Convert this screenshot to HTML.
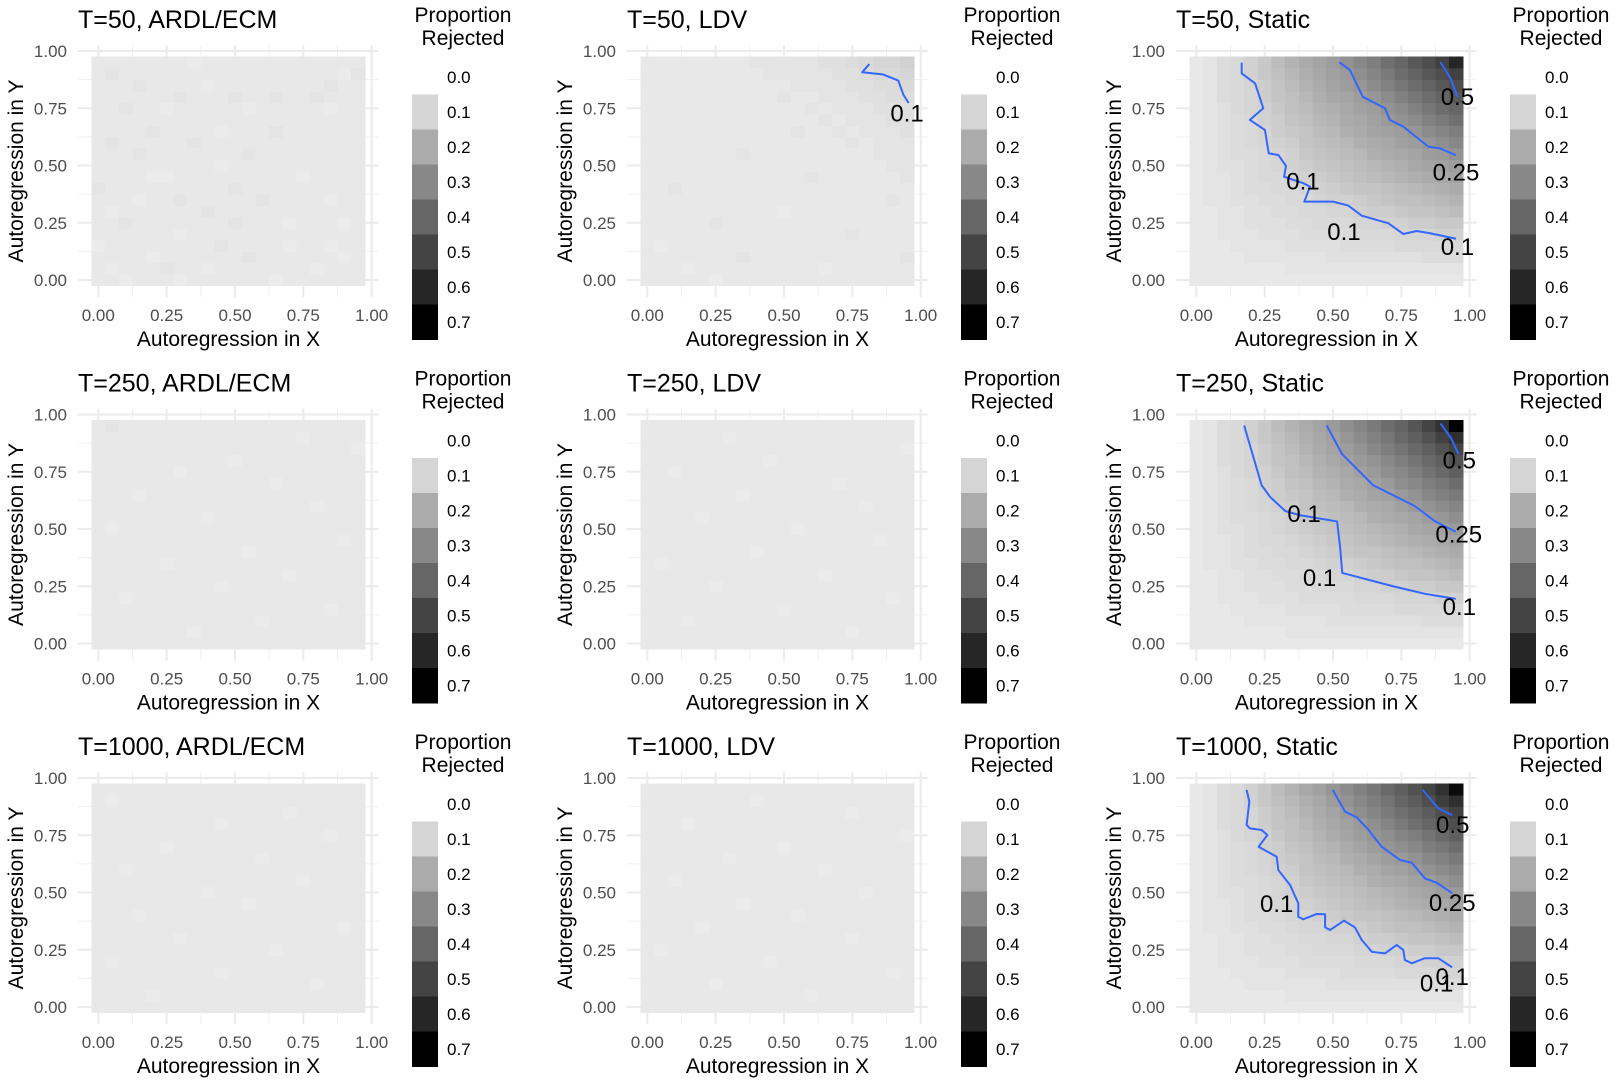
<!DOCTYPE html>
<html><head><meta charset="utf-8"><style>
html,body{margin:0;padding:0;background:#fff;}
svg{display:block;font-family:"Liberation Sans",Arial,sans-serif;}
</style></head><body>
<svg id="chart" width="1619" height="1084" viewBox="0 0 1619 1084" xmlns="http://www.w3.org/2000/svg"></svg>
<script>
// ---- data (rows = y index 0..19 for y=0..0.95, cols = x index 0..19) ----
const ardl50 = [
[5,5,4,5,5,5,4,5,5,5,5,5,5,4,5,5,5,5,5,5],
[5,4,5,5,5,6,5,5,4,5,5,5,5,5,5,5,4,5,5,5],
[5,5,5,5,4,5,5,5,5,5,5,6,5,5,5,5,5,5,4,5],
[4,5,5,5,5,5,5,5,5,6,5,5,5,5,4,5,5,4,5,5],
[5,5,5,5,5,5,4,5,5,5,5,5,5,5,5,5,5,5,5,5],
[5,5,6,5,5,5,5,5,5,5,6,5,5,5,4,5,5,5,4,5],
[5,4,5,5,5,5,5,5,6,5,5,5,5,5,5,5,5,5,5,5],
[5,5,5,4,5,5,6,5,5,5,5,5,6,5,5,5,5,4,5,5],
[6,5,5,5,5,5,5,5,5,5,6,5,5,5,5,5,5,5,5,5],
[5,5,5,5,4,4,5,5,5,5,5,5,5,5,5,4,5,5,5,5],
[5,5,5,5,5,5,5,5,5,4,5,5,5,5,5,5,5,5,5,5],
[5,5,5,6,5,5,5,5,5,5,5,6,5,5,5,5,5,5,5,5],
[5,6,5,5,5,5,5,6,5,5,5,5,5,5,5,5,5,5,5,5],
[5,5,5,5,6,5,5,5,5,4,5,5,5,6,5,5,5,5,5,5],
[5,5,5,5,5,5,5,5,5,5,5,5,5,5,5,5,5,5,5,5],
[5,5,6,5,5,4,5,5,5,5,5,4,5,5,5,5,5,4,5,5],
[5,5,5,5,5,5,6,5,5,5,6,5,5,6,5,5,6,5,5,5],
[5,5,5,6,5,5,5,5,4,5,5,5,5,5,5,5,5,6,5,5],
[5,6,5,5,5,5,5,5,5,5,5,5,5,5,5,5,5,5,4,6],
[5,5,5,5,5,5,5,4,5,5,5,5,5,5,5,5,5,5,5,5]];
const ldv50 = [
[5,5,5,5,5,4,5,5,5,5,5,5,5,5,5,5,5,5,5,5],
[5,5,5,4,5,5,5,5,5,5,5,5,5,4,5,5,5,5,5,5],
[5,5,5,5,5,5,5,6,5,5,5,5,5,5,5,5,5,5,5,6],
[5,4,5,5,5,5,5,5,5,5,5,5,5,5,5,5,5,5,5,5],
[5,5,5,5,5,5,5,5,5,5,5,5,5,5,5,6,5,5,5,5],
[5,5,5,5,5,6,5,5,5,5,5,5,5,5,5,5,5,5,5,5],
[5,5,5,5,5,5,5,5,5,5,4,5,5,5,5,5,5,5,5,5],
[5,5,5,5,5,5,5,5,5,5,5,5,5,5,5,5,5,5,6,5],
[5,5,6,5,5,5,5,5,5,5,5,5,5,5,5,5,5,5,5,5],
[5,5,5,5,5,5,5,5,5,5,5,5,6,5,5,5,5,5,5,6],
[5,5,5,5,5,5,5,5,5,5,5,5,5,5,5,5,5,5,6,6],
[5,5,5,5,5,5,5,6,5,5,5,5,5,5,5,5,5,6,6,6],
[5,5,5,5,5,5,5,5,5,5,5,5,5,5,5,6,5,6,6,6],
[5,5,5,5,5,5,5,5,5,5,5,6,5,5,6,5,6,6,6,7],
[5,5,5,5,5,5,5,5,5,5,5,5,5,6,5,6,6,6,7,7],
[5,5,5,5,5,5,5,5,5,5,5,5,6,5,6,6,6,7,7,7],
[5,5,5,5,5,5,5,5,5,5,6,5,5,6,6,6,7,7,8,8],
[5,5,5,5,5,5,5,5,5,5,5,6,6,6,6,7,7,8,8,9],
[5,5,5,5,5,5,5,5,5,6,6,6,6,6,7,7,8,9,9,10],
[5,5,5,5,5,5,5,5,6,6,6,6,6,7,7,8,9,10,10,11]];
const static50 = [
[5,5,5,5,5,5,5,5,5,5,5,5,5,5,5,5,5,5,5,5],
[5,5,5,5,5,5,5,6,6,6,6,6,6,6,6,6,6,6,6,6],
[5,5,5,5,6,6,6,6,6,6,7,7,7,7,7,7,7,8,8,8],
[5,5,5,6,6,6,6,7,7,7,7,8,8,8,8,9,9,9,9,9],
[5,5,6,6,6,7,7,7,8,8,8,8,9,9,9,10,10,10,11,11],
[5,5,6,6,7,7,7,8,8,9,9,9,10,10,11,11,12,12,13,13],
[5,5,6,6,7,7,8,8,9,9,10,10,11,12,12,13,14,14,15,16],
[5,6,6,7,7,8,8,9,9,10,11,11,12,13,14,15,15,16,17,18],
[5,6,6,7,8,8,9,9,10,11,12,13,14,14,15,16,17,18,19,20],
[5,6,6,7,8,9,9,10,11,12,13,14,15,16,17,18,19,20,21,22],
[5,6,7,7,8,9,10,11,12,13,14,15,16,17,18,19,21,22,23,24],
[5,6,7,8,8,9,10,11,13,14,15,16,17,19,20,21,22,24,25,27],
[5,6,7,8,9,10,11,12,14,15,16,17,19,20,21,23,24,26,28,30],
[5,6,7,8,9,10,12,13,14,16,17,19,20,22,23,24,26,29,31,33],
[5,6,7,8,9,11,12,14,15,17,18,20,21,23,25,27,29,32,34,37],
[5,6,7,9,10,11,13,15,16,18,19,21,23,24,27,29,32,35,38,40],
[5,6,8,9,10,12,14,15,17,19,21,22,24,26,29,32,35,38,41,44],
[5,6,8,9,10,12,14,16,18,20,22,24,26,29,32,35,38,41,44,47],
[5,6,8,9,11,13,15,17,19,21,23,25,28,31,34,38,41,44,47,51],
[5,6,8,9,11,13,16,18,20,22,24,27,30,33,37,40,44,47,51,60]];
const static250 = [
[5,5,5,5,5,5,5,5,5,5,5,5,5,5,5,5,5,5,5,5],
[5,5,5,5,5,5,5,6,6,6,6,6,6,6,6,6,6,6,6,6],
[5,5,5,5,6,6,6,6,6,6,7,7,7,7,7,7,7,8,8,8],
[5,5,5,6,6,6,6,7,7,7,7,8,8,8,8,9,9,9,9,9],
[5,5,6,6,6,7,7,7,8,8,8,8,9,9,9,10,10,10,11,11],
[5,5,6,6,7,7,7,8,8,9,9,9,10,10,11,11,12,12,13,13],
[5,5,6,6,7,7,8,8,9,9,10,10,11,12,12,13,14,14,15,16],
[5,6,6,7,7,8,8,9,9,10,11,11,12,13,14,15,15,16,17,18],
[5,6,6,7,8,8,9,9,10,11,12,13,14,14,15,16,17,18,19,20],
[5,6,6,7,8,9,9,10,11,12,13,14,15,16,17,18,19,20,21,22],
[5,6,7,7,8,9,10,11,12,13,14,15,16,17,18,19,21,22,23,25],
[5,6,7,8,8,9,10,11,13,14,15,16,17,19,20,21,22,24,26,28],
[5,6,7,8,9,10,11,12,14,15,16,17,19,20,21,23,25,27,29,31],
[5,6,7,8,9,10,12,13,14,16,17,19,20,22,23,25,27,30,32,34],
[5,6,7,8,9,11,12,14,15,17,18,20,21,23,25,28,30,33,35,38],
[5,6,7,9,10,11,13,15,16,18,19,21,23,25,28,30,33,36,39,42],
[5,6,8,9,10,12,14,15,17,19,21,23,25,27,30,33,36,39,42,46],
[5,6,8,9,10,12,14,16,18,20,22,24,27,30,33,36,39,42,46,50],
[5,6,8,9,11,13,15,17,19,21,23,26,29,32,35,39,42,46,51,57],
[5,6,8,9,11,13,16,18,20,22,25,28,31,34,38,41,45,50,56,70]];
const static1000 = [
[5,5,5,5,5,5,5,5,5,5,5,5,5,5,5,5,5,5,5,5],
[5,5,5,5,5,5,5,6,6,6,6,6,6,6,6,6,6,6,6,6],
[5,5,5,5,6,6,6,6,6,6,7,7,7,7,7,7,7,8,8,8],
[5,5,5,6,6,6,6,7,7,7,7,8,8,8,8,9,9,9,10,10],
[5,5,6,6,6,7,7,7,8,8,8,8,9,9,9,10,10,11,11,11],
[5,5,6,6,7,7,7,8,8,9,9,9,10,10,11,11,12,12,13,13],
[5,5,6,6,7,7,8,8,9,9,10,10,11,12,12,13,14,14,15,16],
[5,6,6,7,7,8,8,9,10,10,11,11,12,13,14,15,15,16,17,18],
[5,6,6,7,8,8,9,10,10,11,12,13,14,14,15,16,17,18,19,20],
[5,6,6,7,8,9,10,10,11,12,13,14,15,16,17,18,19,20,21,23],
[5,6,7,7,8,9,10,11,12,13,14,15,16,17,18,19,21,22,24,25],
[5,6,7,8,8,9,10,11,13,14,15,16,17,19,20,21,23,24,26,28],
[5,6,7,8,9,10,11,12,14,15,16,17,19,20,22,23,25,27,29,31],
[5,6,7,8,9,10,12,13,14,16,17,19,20,22,24,25,27,30,32,34],
[5,6,7,8,9,11,12,14,15,17,18,20,22,24,26,28,30,33,35,38],
[5,6,7,9,10,11,13,15,16,18,20,22,24,26,28,31,33,36,39,42],
[5,6,8,9,10,12,14,15,17,19,21,23,25,28,31,34,37,40,43,47],
[5,6,8,9,10,12,14,16,18,20,22,25,28,31,34,37,40,43,47,51],
[5,6,8,9,11,13,15,17,19,21,24,27,30,33,36,40,43,47,52,57],
[5,6,8,9,11,13,16,18,21,23,26,29,32,35,39,42,46,50,56,67]];
const ardl250 = [
[5,5,5,5,5,5,5,5,5,5,5,5,5,5,5,5,5,5,5,5],
[5,5,5,5,5,5,5,4,5,5,5,5,5,5,5,5,5,5,5,5],
[5,5,5,5,5,5,5,5,5,5,5,5,4,5,5,5,5,5,5,5],
[5,5,5,5,5,5,5,5,5,5,5,5,5,5,5,5,5,4,5,5],
[5,5,4,5,5,5,5,5,5,5,5,5,5,5,5,5,5,5,5,5],
[5,5,5,5,5,5,5,5,5,4,5,5,5,5,5,5,5,5,5,5],
[5,5,5,5,5,5,5,5,5,5,5,5,5,5,4,5,5,5,5,5],
[5,5,5,5,5,4,5,5,5,5,5,5,5,5,5,5,5,5,5,5],
[5,5,5,5,5,5,5,5,5,5,5,4,5,5,5,5,5,5,5,5],
[5,5,5,5,5,5,5,5,5,5,5,5,5,5,5,5,5,5,4,5],
[5,4,5,5,5,5,5,5,5,5,5,5,5,5,5,5,5,5,5,5],
[5,5,5,5,5,5,5,5,4,5,5,5,5,5,5,5,5,5,5,5],
[5,5,5,5,5,5,5,5,5,5,5,5,5,5,5,5,4,5,5,5],
[5,5,5,4,5,5,5,5,5,5,5,5,5,5,5,5,5,5,5,5],
[5,5,5,5,5,5,5,5,5,5,5,5,5,4,5,5,5,5,5,5],
[5,5,5,5,5,5,4,5,5,5,5,5,5,5,5,5,5,5,5,5],
[5,5,5,5,5,5,5,5,5,5,4,5,5,5,5,5,5,5,5,5],
[5,5,5,5,5,5,5,5,5,5,5,5,5,5,5,5,5,5,5,4],
[5,5,5,5,5,5,5,5,5,5,5,5,5,5,5,4,5,5,5,5],
[5,6,5,5,5,5,5,5,5,5,5,5,5,5,5,5,5,5,5,5]];
const ldv250 = [
[5,5,5,5,5,5,5,5,5,5,5,5,5,5,5,5,5,5,5,5],
[5,5,5,5,5,5,5,5,5,5,5,5,5,5,5,4,5,5,5,5],
[5,5,5,4,5,5,5,5,5,5,5,5,5,5,5,5,5,5,5,5],
[5,5,5,5,5,5,5,5,5,5,4,5,5,5,5,5,5,5,5,5],
[5,5,5,5,5,5,5,5,5,5,5,5,5,5,5,5,5,5,4,5],
[5,5,5,5,5,4,5,5,5,5,5,5,5,5,5,5,5,5,5,5],
[5,5,5,5,5,5,5,5,5,5,5,5,5,4,5,5,5,5,5,5],
[5,4,5,5,5,5,5,5,5,5,5,5,5,5,5,5,5,5,5,5],
[5,5,5,5,5,5,5,5,4,5,5,5,5,5,5,5,5,5,5,5],
[5,5,5,5,5,5,5,5,5,5,5,5,5,5,5,5,5,4,5,5],
[5,5,5,5,5,5,5,5,5,5,5,4,5,5,5,5,5,5,5,5],
[5,5,5,5,4,5,5,5,5,5,5,5,5,5,5,5,5,5,5,5],
[5,5,5,5,5,5,5,5,5,5,5,5,5,5,5,5,4,5,5,5],
[5,5,5,5,5,5,5,4,5,5,5,5,5,5,5,5,5,5,5,5],
[5,5,5,5,5,5,5,5,5,5,5,5,5,5,4,5,5,5,5,5],
[5,5,4,5,5,5,5,5,5,5,5,5,5,5,5,5,5,5,5,5],
[5,5,5,5,5,5,5,5,5,4,5,5,5,5,5,5,5,5,5,5],
[5,5,5,5,5,5,5,5,5,5,5,5,5,5,5,5,5,5,5,4],
[5,5,5,5,5,5,4,5,5,5,5,5,5,5,5,5,5,5,5,5],
[5,5,5,5,5,5,5,5,5,5,5,5,5,5,5,5,5,5,5,5]];
const ardl1000 = [
[5,5,5,5,5,5,5,5,5,5,5,5,5,5,5,5,5,5,5,5],
[5,5,5,5,4,5,5,5,5,5,5,5,5,5,5,5,5,5,5,5],
[5,5,5,5,5,5,5,5,5,5,5,5,5,5,5,5,4,5,5,5],
[5,5,5,5,5,5,5,5,5,4,5,5,5,5,5,5,5,5,5,5],
[5,4,5,5,5,5,5,5,5,5,5,5,5,5,5,5,5,5,5,5],
[5,5,5,5,5,5,5,5,5,5,5,5,5,4,5,5,5,5,5,5],
[5,5,5,5,5,5,4,5,5,5,5,5,5,5,5,5,5,5,5,5],
[5,5,5,5,5,5,5,5,5,5,5,5,5,5,5,5,5,5,4,5],
[5,5,5,4,5,5,5,5,5,5,5,5,5,5,5,5,5,5,5,5],
[5,5,5,5,5,5,5,5,5,5,5,4,5,5,5,5,5,5,5,5],
[5,5,5,5,5,5,5,5,4,5,5,5,5,5,5,5,5,5,5,5],
[5,5,5,5,5,5,5,5,5,5,5,5,5,5,5,4,5,5,5,5],
[5,5,4,5,5,5,5,5,5,5,5,5,5,5,5,5,5,5,5,5],
[5,5,5,5,5,5,5,5,5,5,5,5,4,5,5,5,5,5,5,5],
[5,5,5,5,5,4,5,5,5,5,5,5,5,5,5,5,5,5,5,5],
[5,5,5,5,5,5,5,5,5,5,5,5,5,5,5,5,5,4,5,5],
[5,5,5,5,5,5,5,5,5,4,5,5,5,5,5,5,5,5,5,5],
[5,5,5,5,5,5,5,5,5,5,5,5,5,5,4,5,5,5,5,5],
[5,4,5,5,5,5,5,5,5,5,5,5,5,5,5,5,5,5,5,5],
[5,5,5,5,5,5,5,5,5,5,5,5,5,5,5,5,5,5,5,5]];
const ldv1000 = [
[5,5,5,5,5,5,5,5,5,5,5,5,5,5,5,5,5,5,5,5],
[5,5,5,5,5,5,5,5,5,5,5,5,4,5,5,5,5,5,5,5],
[5,5,5,5,5,4,5,5,5,5,5,5,5,5,5,5,5,5,5,5],
[5,5,5,5,5,5,5,5,5,5,5,5,5,5,5,5,5,5,4,5],
[5,5,5,5,5,5,5,5,5,4,5,5,5,5,5,5,5,5,5,5],
[5,4,5,5,5,5,5,5,5,5,5,5,5,5,5,5,5,5,5,5],
[5,5,5,5,5,5,5,5,5,5,5,5,5,5,5,4,5,5,5,5],
[5,5,5,5,4,5,5,5,5,5,5,5,5,5,5,5,5,5,5,5],
[5,5,5,5,5,5,5,5,5,5,5,4,5,5,5,5,5,5,5,5],
[5,5,5,5,5,5,5,4,5,5,5,5,5,5,5,5,5,5,5,5],
[5,5,5,5,5,5,5,5,5,5,5,5,5,5,5,5,4,5,5,5],
[5,5,4,5,5,5,5,5,5,5,5,5,5,5,5,5,5,5,5,5],
[5,5,5,5,5,5,5,5,5,5,5,5,5,4,5,5,5,5,5,5],
[5,5,5,5,5,5,4,5,5,5,5,5,5,5,5,5,5,5,5,5],
[5,5,5,5,5,5,5,5,5,5,4,5,5,5,5,5,5,5,5,5],
[5,5,5,5,5,5,5,5,5,5,5,5,5,5,5,5,5,5,5,4],
[5,5,5,4,5,5,5,5,5,5,5,5,5,5,5,5,5,5,5,5],
[5,5,5,5,5,5,5,5,5,5,5,5,5,5,5,4,5,5,5,5],
[5,5,5,5,5,5,5,5,4,5,5,5,5,5,5,5,5,5,5,5],
[5,5,5,5,5,5,5,5,5,5,5,5,5,5,5,5,5,5,5,5]];

// contour lines (data coords)
const c50ldv_01 = [[0.812,0.943],[0.786,0.907],[0.861,0.898],[0.918,0.871],[0.937,0.808],[0.956,0.773]];
const c50st_01 = [[0.166,0.949],[0.166,0.902],[0.215,0.859],[0.245,0.75],[0.196,0.699],[0.251,0.655],[0.265,0.553],[0.3,0.546],[0.328,0.498],[0.321,0.451],[0.392,0.422],[0.416,0.408],[0.395,0.342],[0.501,0.342],[0.556,0.325],[0.605,0.281],[0.702,0.248],[0.757,0.201],[0.806,0.214],[0.855,0.204],[0.95,0.18]];
const c50st_025 = [[0.523,0.951],[0.562,0.917],[0.609,0.8],[0.69,0.75],[0.708,0.699],[0.757,0.67],[0.849,0.582],[0.891,0.575],[0.95,0.545]];
const c50st_05 = [[0.893,0.952],[0.93,0.88],[0.955,0.8]];
const c250st_01 = [[0.175,0.952],[0.2,0.85],[0.239,0.691],[0.27,0.64],[0.326,0.578],[0.38,0.56],[0.515,0.533],[0.526,0.42],[0.534,0.308],[0.723,0.249],[0.836,0.217],[0.949,0.195]];
const c250st_025 = [[0.477,0.952],[0.534,0.826],[0.647,0.691],[0.798,0.601],[0.874,0.533],[0.949,0.488]];
const c250st_05 = [[0.893,0.961],[0.93,0.9],[0.96,0.826]];
const c1000st_01 = [[0.184,0.948],[0.194,0.897],[0.184,0.795],[0.196,0.78],[0.239,0.773],[0.26,0.751],[0.228,0.7],[0.294,0.656],[0.3,0.598],[0.343,0.533],[0.373,0.453],[0.373,0.394],[0.391,0.383],[0.44,0.406],[0.471,0.405],[0.471,0.348],[0.489,0.336],[0.54,0.377],[0.58,0.348],[0.605,0.293],[0.642,0.241],[0.69,0.234],[0.733,0.271],[0.757,0.249],[0.763,0.205],[0.788,0.191],[0.836,0.213],[0.885,0.213],[0.936,0.173]];
const c1000st_025 = [[0.499,0.948],[0.544,0.853],[0.587,0.828],[0.63,0.773],[0.678,0.7],[0.745,0.642],[0.788,0.63],[0.836,0.562],[0.879,0.543],[0.936,0.497]];
const c1000st_05 = [[0.828,0.948],[0.885,0.868],[0.936,0.838]];

// contour labels: [x, y, text]
const lab50ldv = [[0.95,0.727,"0.1"]];
const lab50st = [[0.955,0.8,"0.5"],[0.95,0.47,"0.25"],[0.39,0.43,"0.1"],[0.54,0.21,"0.1"],[0.955,0.145,"0.1"]];
const lab250st = [[0.962,0.8,"0.5"],[0.96,0.475,"0.25"],[0.394,0.565,"0.1"],[0.451,0.285,"0.1"],[0.962,0.159,"0.1"]];
const lab1000st = [[0.938,0.795,"0.5"],[0.936,0.455,"0.25"],[0.294,0.45,"0.1"],[0.936,0.13,"0.1"],[0.879,0.103,"0.1"]];

const ticks = [0, 0.25, 0.5, 0.75, 1];
const tickLabels = ["0.00","0.25","0.50","0.75","1.00"];
const minorTicks = [0.125, 0.375, 0.625, 0.875];
const legendLevels = ["0.0","0.1","0.2","0.3","0.4","0.5","0.6","0.7"];
const legendColors = [null,"#d5d5d5","#ababab","#888888","#666666","#444444","#262626","#000000"];

const panels = [
 {title:"T=50, ARDL/ECM", data:ardl50, lines:[], labels:[]},
 {title:"T=50, LDV", data:ldv50, lines:[c50ldv_01], labels:lab50ldv},
 {title:"T=50, Static", data:static50, lines:[c50st_01,c50st_025,c50st_05], labels:lab50st},
 {title:"T=250, ARDL/ECM", data:ardl250, lines:[], labels:[]},
 {title:"T=250, LDV", data:ldv250, lines:[], labels:[]},
 {title:"T=250, Static", data:static250, lines:[c250st_01,c250st_025,c250st_05], labels:lab250st},
 {title:"T=1000, ARDL/ECM", data:ardl1000, lines:[], labels:[]},
 {title:"T=1000, LDV", data:ldv1000, lines:[], labels:[]},
 {title:"T=1000, Static", data:static1000, lines:[c1000st_01,c1000st_025,c1000st_05], labels:lab1000st}
];

const NS = "http://www.w3.org/2000/svg";
const svg = document.getElementById('chart');
function mk(tag, attrs, parent){
  const e = document.createElementNS(NS, tag);
  for (const k in attrs) e.setAttribute(k, attrs[k]);
  (parent||svg).appendChild(e);
  return e;
}
const stopsV = [0,10,20,30,40,50,60,70];
const stopsG = [250,213,171,136,102,68,38,0];
function fillFor(v){
  if (v <= 0) return 'rgb(250,250,250)';
  if (v >= 70) return 'rgb(0,0,0)';
  let i = Math.floor(v/10);
  const t = (v - stopsV[i]) / 10;
  const g = Math.round(stopsG[i] + (stopsG[i+1]-stopsG[i])*t);
  return `rgb(${g},${g},${g})`;
}

panels.forEach((p, idx) => {
  const col = idx % 3, row = Math.floor(idx/3);
  const ox = col*549, oy = row*363.5;
  const X = v => ox + 98.3 + v*273.4;
  const Y = v => oy + 280 - v*229;
  const g = mk('g', {});
  
  

  // grid
  const grid = mk('g', {}, g);
  
  
  minorTicks.forEach(t => {
    mk('line', {x1:X(t), x2:X(t), y1:Y(1.025), y2:Y(-0.075), stroke:'#f0f0f0', 'stroke-width':1}, grid);
    mk('line', {x1:X(-0.075), x2:X(1.025), y1:Y(t), y2:Y(t), stroke:'#f0f0f0', 'stroke-width':1}, grid);
  });
  ticks.forEach(t => {
    mk('line', {x1:X(t), x2:X(t), y1:Y(1.025), y2:Y(-0.075), stroke:'#ebebeb', 'stroke-width':2}, grid);
    mk('line', {x1:X(-0.075), x2:X(1.025), y1:Y(t), y2:Y(t), stroke:'#ebebeb', 'stroke-width':2}, grid);
  });

  // tiles
  const tiles = mk('g', {'shape-rendering':'crispEdges'}, g);
  
  
  p.data.forEach((rowVals, j) => {
    rowVals.forEach((v, i) => {
      const x0 = X(i*0.05 - 0.025), x1 = X(i*0.05 + 0.025);
      const y0 = Y(j*0.05 + 0.025), y1 = Y(j*0.05 - 0.025);
      const r = mk('rect', {x:x0, y:y0, width:x1-x0+0.4, height:y1-y0+0.4, fill:fillFor(v)}, tiles);
      
      
    });
  });

  // contours
  p.lines.forEach(line => {
    const pl = mk('polyline', {points: line.map(q => X(q[0])+','+Y(q[1])).join(' '), fill:'none', stroke:'#3366ff', 'stroke-width':2, 'stroke-linejoin':'round'}, g);
    
    
  });
  p.labels.forEach(l => {
    const t = mk('text', {x:X(l[0]), y:Y(l[1])+8, 'text-anchor':'middle', 'font-size':24, fill:'#000'}, g);
    t.textContent = l[2];
    
    
  });

  // ticks
  ticks.forEach((t, k) => {
    const tx = mk('text', {x:X(t), y:oy+321, 'text-anchor':'middle', 'font-size':17, fill:'#4d4d4d'}, g);
    tx.textContent = tickLabels[k];
    
    
    const ty = mk('text', {x:ox+67, y:Y(t)+6, 'text-anchor':'end', 'font-size':17, fill:'#4d4d4d'}, g);
    ty.textContent = tickLabels[k];
    
    
  });

  // titles
  const tt = mk('text', {x:ox+78, y:oy+28, 'font-size':25, fill:'#000'}, g);
  tt.textContent = p.title;
  
  
  const xt = mk('text', {x:ox+228.5, y:oy+346, 'text-anchor':'middle', 'font-size':21, fill:'#000'}, g);
  xt.textContent = 'Autoregression in X';
  
  
  const yt = mk('text', {x:0, y:0, 'text-anchor':'middle', 'font-size':21, fill:'#000', transform:`translate(${ox+23},${oy+171}) rotate(-90)`}, g);
  yt.textContent = 'Autoregression in Y';
  
  

  // legend
  const lg = mk('g', {}, g);
  
  
  const l1 = mk('text', {x:ox+463, y:oy+22, 'text-anchor':'middle', 'font-size':21, fill:'#000'}, lg);
  l1.textContent = 'Proportion';
  
  
  const l2 = mk('text', {x:ox+463, y:oy+45, 'text-anchor':'middle', 'font-size':21, fill:'#000'}, lg);
  l2.textContent = 'Rejected';
  
  
  legendLevels.forEach((lev, k) => {
    const cy = oy + 77 + k*35;
    if (legendColors[k]) {
      const r = mk('rect', {x:ox+412, y:cy-17.5, width:26, height:35.5, fill:legendColors[k]}, lg);
      
      
    }
    const t = mk('text', {x:ox+447, y:cy+6, 'font-size':17, fill:'#000'}, lg);
    t.textContent = lev;
    
    
  });
});
</script>
</body></html>
